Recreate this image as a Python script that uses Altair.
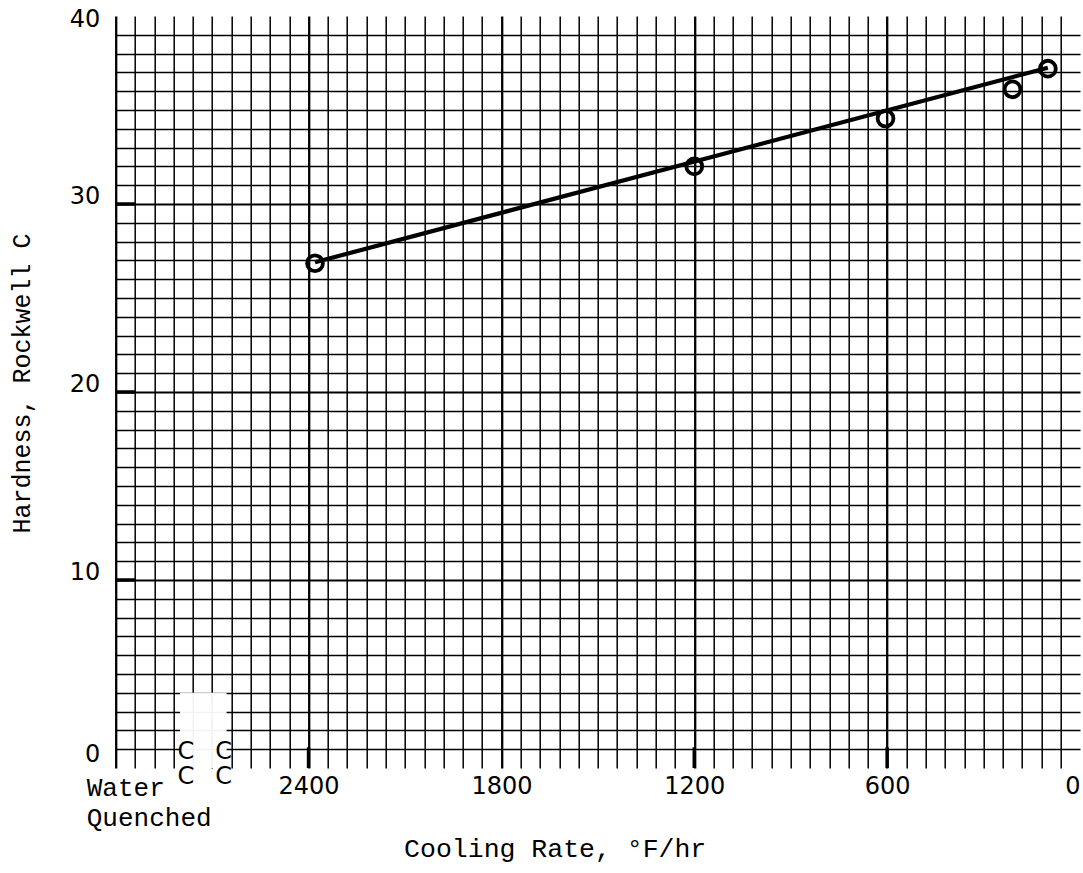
import altair as alt
import pandas as pd

# Measured points (cooling rate °F/hr, hardness Rockwell C)
rate = [2380, 1200, 605, 210, 100]
hardness = [26.85, 32.0, 34.55, 36.1, 37.2]

# Hand-drawn fit line end points
fit_rate = [2380, 100]
fit_hardness = [26.9, 37.25]

# Axis labels
x_labels = [2400, 1800, 1200, 600, 0]
y_labels = [0, 10, 20, 30, 40]

# Graph-paper rulings
x_grid = list(range(0, 3001, 60))
y_grid = list(range(0, 41))

# Heavy tick marks drawn on the paper
major_y = [10, 20, 30]
major_x = [2400, 1200, 600]

# "Water Quenched" note and axis-break marks
note_lines = ["Water", "Quenched"]
note_rate = [3090, 3090]
note_hrc = [-1.06, -2.66]
break_rate = [2782, 2782, 2664, 2664]
break_hrc = [0.85, -0.5, 0.85, -0.5]
gap_rate = [2800]
gap_rate2 = [2655]
gap_hrc = [0]
gap_hrc2 = [4]

MONO = "Liberation Mono"
SANS = "DejaVu Sans"

x_scale = alt.Scale(domain=[0, 3000], reverse=True, nice=False, zero=False)
y_scale = alt.Scale(domain=[0, 40], nice=False, zero=False)

lab_x = ",".join(str(v) for v in x_labels)
lab_y = ",".join(str(v) for v in y_labels)

x_axis = alt.Axis(
    values=x_grid, format="d",
    labelExpr=f"indexof([{lab_x}], datum.value) >= 0 ? datum.label : ''",
    labelOverlap=False, labelFlush=True, ticks=False, domain=False,
    grid=True, gridColor="black",
    gridWidth={"condition": {"test": "datum.value % 600 === 0", "value": 2.3}, "value": 1.5},
    gridOpacity={"condition": {"test": "datum.value === 0", "value": 0}, "value": 1},
    labelFont=SANS, labelFontSize=24, labelColor="black", labelPadding=6,
    title="Cooling Rate, °F/hr", titleFont=MONO, titleFontSize=26.5,
    titleFontWeight="normal", titleColor="black",
    titleX=439, titleY=80, titleBaseline="middle", titleAlign="center",
)
y_axis = alt.Axis(
    values=y_grid, format="d",
    labelExpr=f"indexof([{lab_y}], datum.value) >= 0 ? datum.label : ''",
    labelOverlap=False, ticks=False, domain=False,
    grid=True, gridColor="black",
    gridWidth={"condition": {"test": "datum.value % 10 === 0", "value": 1.9}, "value": 1.5},
    gridOpacity={"condition": {"test": "datum.value === 0 || datum.value === 40", "value": 0}, "value": 1},
    labelFont=SANS, labelFontSize=24, labelColor="black", labelPadding=16,
    labelOffset={"condition": [
        {"test": "datum.value === 40", "value": 3},
        {"test": "datum.value === 0", "value": -14},
    ], "value": -8},
    title="Hardness, Rockwell C", titleFont=MONO, titleFontSize=25,
    titleFontWeight="normal", titleColor="black",
    titleX=-94, titleY=367, titleAngle=-90, titleBaseline="middle", titleAlign="center",
)

X = lambda f="rate": alt.X(f"{f}:Q", scale=x_scale, axis=x_axis)
Y = lambda f="hrc": alt.Y(f"{f}:Q", scale=y_scale, axis=y_axis)

pts = pd.DataFrame({"rate": rate, "hrc": hardness})
fit = pd.DataFrame({"rate": fit_rate, "hrc": fit_hardness})
notes = pd.DataFrame({"rate": note_rate, "hrc": note_hrc, "txt": note_lines})
brk = pd.DataFrame({"rate": break_rate, "hrc": break_hrc, "txt": ["C"] * len(break_rate)})
gap = pd.DataFrame({"rate": gap_rate, "rate2": gap_rate2, "hrc": gap_hrc, "hrc2": gap_hrc2})
ytk = pd.DataFrame({"rate": [3000] * len(major_y), "rate2": [2940] * len(major_y), "hrc": major_y})
xtk = pd.DataFrame({"rate": major_x, "hrc": [0] * len(major_x), "hrc2": [1.1] * len(major_x)})

gap_layer = alt.Chart(gap).mark_rect(color="white", opacity=0.95).encode(
    x=X(), x2="rate2:Q", y=Y(), y2="hrc2:Q")
ytick_layer = alt.Chart(ytk).mark_rule(color="black", strokeWidth=3.5).encode(
    x=X(), x2="rate2:Q", y=Y())
xtick_layer = alt.Chart(xtk).mark_rule(color="black", strokeWidth=3.5).encode(
    x=X(), y=Y(), y2="hrc2:Q")
line_layer = alt.Chart(fit).mark_line(color="black", strokeWidth=4.2).encode(x=X(), y=Y())
pt_layer = alt.Chart(pts).mark_point(
    shape="circle", filled=False, color="black", strokeWidth=3.8, size=250, opacity=1
).encode(x=X(), y=Y())
note_layer = alt.Chart(notes).mark_text(
    font=MONO, fontSize=26, align="left", baseline="middle", color="black", clip=False
).encode(x=X(), y=Y(), text="txt:N")
brk_layer = alt.Chart(brk).mark_text(
    font=SANS, fontSize=24, align="center", baseline="middle", color="black", clip=False
).encode(x=X(), y=Y(), text="txt:N")

chart = alt.layer(
    gap_layer, ytick_layer, xtick_layer, line_layer, pt_layer, note_layer, brk_layer
).properties(
    width=964.3, height=752,
    autosize=alt.AutoSizeParams(type="none"),
    padding={"left": 115.7, "top": 16, "right": 3, "bottom": 105},
    background="white",
).configure_view(strokeWidth=0)

chart.save("out.html", embed_options={"renderer": "svg", "actions": False})
